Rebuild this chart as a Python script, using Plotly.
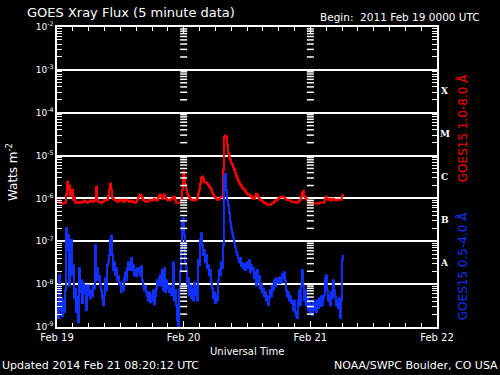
import pandas as pd
import plotly.graph_objects as go

# ---------------- data ----------------
data_start = "2011-02-19 00:00"
data_end = "2011-02-21 06:10"

# GOES15 1.0-8.0 A (long channel), log10 of W m^-2
long_log10 = [
    -6.08, -6.05, -6.05, -6.10, -6.10, -6.12, -6.12, -6.10, -6.10, -5.91,
    -5.61, -5.80, -5.70, -5.94, -5.84, -5.80, -6.03, -5.98, -6.10, -6.08,
    -6.10, -6.08, -6.08, -6.10, -6.10, -6.08, -6.08, -6.05, -6.08, -6.08,
    -6.10, -6.08, -6.08, -6.05, -6.05, -6.08, -6.08, -6.05, -6.03, -5.73,
    -6.03, -6.08, -6.08, -6.10, -6.10, -6.08, -6.08, -6.05, -6.05, -6.03,
    -6.03, -5.94, -5.80, -5.66, -5.80, -5.98, -6.01, -6.03, -6.05, -6.05,
    -6.08, -6.08, -6.05, -6.03, -6.03, -6.05, -6.08, -6.08, -6.05, -6.03,
    -6.05, -6.05, -6.08, -6.08, -6.05, -6.05, -6.08, -6.10, -6.10, -6.08,
    -6.03, -5.98, -5.94, -5.91, -5.94, -5.98, -6.03, -6.05, -6.08, -6.08,
    -6.08, -6.05, -6.03, -6.03, -6.05, -6.05, -6.03, -6.01, -6.03, -6.05,
    -6.03, -5.98, -5.94, -5.91, -5.96, -6.01, -5.98, -5.91, -5.98, -6.01,
    -6.03, -6.05, -6.03, -6.03, -6.01, -6.01, -5.96, -5.96, -6.03, -6.10,
    -6.10, -6.10, -6.10, -6.10, -6.03, -5.80, -5.38, -5.47, -5.68, -5.80,
    -5.89, -5.94, -5.98, -6.01, -6.03, -6.03, -6.05, -6.05, -6.03, -6.03,
    -5.98, -5.89, -5.80, -5.66, -5.52, -5.49, -5.54, -5.61, -5.63, -5.63,
    -5.66, -5.68, -5.73, -5.75, -5.80, -5.87, -5.91, -5.96, -5.98, -6.01,
    -6.03, -6.03, -6.01, -5.98, -5.96, -5.96, -5.33, -4.56, -4.54, -4.56,
    -4.75, -4.94, -5.03, -5.10, -5.17, -5.21, -5.28, -5.33, -5.40, -5.47,
    -5.52, -5.59, -5.63, -5.68, -5.70, -5.75, -5.77, -5.80, -5.82, -5.87,
    -5.89, -5.91, -5.91, -5.94, -5.96, -5.98, -6.01, -6.01, -5.94, -5.89,
    -5.91, -5.96, -6.01, -6.03, -6.05, -6.05, -6.08, -6.10, -6.12, -6.12,
    -6.15, -6.15, -6.15, -6.15, -6.12, -6.12, -6.10, -6.08, -6.05, -6.05,
    -6.03, -6.01, -5.98, -5.98, -5.96, -5.96, -5.96, -5.98, -6.01, -6.03,
    -6.03, -6.03, -6.05, -6.05, -6.08, -6.08, -6.08, -6.08, -6.10, -6.10,
    -6.10, -6.08, -6.05, -6.03, -5.96, -5.87, -5.82, -5.94, -5.98, -6.01,
    -6.03, -6.05, -6.08, -6.10, -6.10, -6.10, -6.12, -6.12, -6.12, -6.12,
    -6.12, -6.12, -6.10, -6.10, -6.10, -6.10, -6.10, -6.08, -6.01, -5.96,
    -6.01, -6.03, -6.03, -6.01, -6.05, -6.03, -6.01, -6.03, -6.03, -6.05,
    -6.03, -6.03, -6.03, -6.03, -6.03, -5.94, -5.89,
]

# GOES15 0.5-4.0 A (short channel), log10 of W m^-2
short_log10 = [
    -8.38, -8.79, -7.79, -8.61, -8.33, -8.75, -8.38, -8.65, -8.14, -6.69,
    -7.21, -6.85, -8.03, -7.21, -6.97, -7.79, -7.56, -8.33, -8.10, -8.65,
    -8.28, -8.89, -7.63, -8.19, -7.91, -8.44, -7.96, -8.21, -8.03, -8.61,
    -8.26, -8.03, -8.19, -8.33, -8.14, -8.28, -8.03, -8.10, -7.09, -7.91,
    -7.63, -7.91, -7.81, -8.00, -8.14, -8.33, -8.49, -8.26, -7.86, -8.14,
    -7.56, -7.49, -7.32, -6.97, -6.87, -7.32, -7.67, -7.49, -7.79, -7.63,
    -7.91, -7.81, -8.00, -7.96, -8.19, -8.03, -8.14, -7.86, -7.72, -7.91,
    -7.63, -7.49, -7.67, -7.49, -7.39, -7.67, -7.56, -7.79, -7.67, -7.81,
    -7.63, -7.72, -7.63, -7.79, -7.58, -7.91, -8.03, -8.14, -8.05, -8.19,
    -8.28, -8.38, -8.19, -8.42, -8.26, -8.38, -8.14, -8.47, -8.28, -8.10,
    -7.91, -8.03, -7.86, -7.79, -8.03, -7.67, -8.14, -7.63, -8.19, -7.91,
    -8.10, -8.03, -8.19, -8.10, -8.26, -8.03, -7.49, -8.38, -8.14, -8.49,
    -8.84, -8.98, -8.14, -7.67, -7.21, -6.50, -6.46, -6.85, -7.49, -7.63,
    -8.03, -7.86, -8.26, -8.03, -8.33, -8.10, -8.38, -7.96, -8.26, -8.03,
    -8.38, -7.44, -7.56, -6.97, -6.81, -7.09, -7.32, -7.21, -7.49, -7.32,
    -7.63, -7.56, -7.79, -7.67, -7.96, -8.10, -8.33, -8.19, -8.44, -8.26,
    -8.38, -7.91, -7.67, -7.79, -7.49, -7.63, -7.09, -5.48, -5.43, -5.81,
    -6.04, -6.16, -6.34, -6.55, -6.69, -6.81, -6.92, -7.02, -7.14, -7.25,
    -7.32, -7.39, -7.49, -7.39, -7.58, -7.51, -7.63, -7.53, -7.67, -7.56,
    -7.49, -7.63, -7.44, -7.72, -7.56, -7.67, -7.63, -7.86, -7.72, -8.03,
    -7.67, -7.96, -7.81, -8.10, -8.00, -8.19, -8.10, -8.28, -8.19, -8.38,
    -8.28, -8.49, -8.33, -8.14, -8.28, -8.03, -8.14, -7.91, -8.05, -7.86,
    -7.96, -7.86, -7.98, -7.84, -7.96, -7.77, -7.86, -7.72, -7.91, -8.14,
    -8.28, -8.19, -8.38, -8.28, -8.44, -8.38, -8.61, -8.38, -8.65, -8.75,
    -8.79, -8.38, -8.14, -8.49, -8.03, -7.67, -8.03, -8.38, -8.14, -8.49,
    -8.33, -8.61, -8.38, -8.65, -8.49, -8.72, -8.38, -8.61, -8.42, -8.65,
    -8.38, -8.56, -8.33, -8.51, -8.28, -8.49, -8.33, -8.26, -7.86, -7.79,
    -8.14, -8.38, -8.26, -8.49, -8.19, -8.33, -7.91, -8.14, -8.28, -8.49,
    -8.38, -8.56, -8.33, -8.79, -8.38, -7.44, -7.32,
]

day_ticks = ["2011-02-19", "2011-02-20", "2011-02-21", "2011-02-22"]
day_labels = ["Feb 19", "Feb 20", "Feb 21", "Feb 22"]
day_boundaries = ["2011-02-20", "2011-02-21"]
decades = [-9, -8, -7, -6, -5, -4, -3, -2]
minor_multipliers = [2, 3, 4, 5, 6, 7, 8, 9]
flare_classes = ["A", "B", "C", "M", "X"]
class_centers = [-7.5, -6.5, -5.5, -4.5, -3.5]

# ---------------- derived ----------------
times = pd.date_range(data_start, data_end, periods=len(long_log10))
long_flux = [10.0 ** v for v in long_log10]
short_flux = [10.0 ** v for v in short_log10]
decade_vals = [10.0 ** d for d in decades]
decade_text = ["10<sup>%d</sup>" % d for d in decades]
minor_vals = [m * 10.0 ** d for d in decades[:-1] for m in minor_multipliers]

FONT = "DejaVu Sans"
fig = go.Figure()

fig.add_trace(go.Scatter(x=times, y=long_flux, mode="lines", line=dict(color="#ff0000", width=2, shape="hv"),
                         hoverinfo="skip", showlegend=False))
fig.add_trace(go.Scatter(x=times, y=short_flux, mode="lines", line=dict(color="#1030ff", width=2, shape="hv"),
                         hoverinfo="skip", showlegend=False))

# dashed day-boundary markers (axis ticks repeated at each day boundary)
bx, by = [], []
for d in day_boundaries:
    for v in minor_vals:
        bx.append(d)
        by.append(v)
fig.add_trace(go.Scatter(x=bx, y=by, mode="markers",
                         marker=dict(symbol="line-ew", size=5, line=dict(color="white", width=1.5)),
                         hoverinfo="skip", showlegend=False))

fig.update_layout(
    width=500, height=375,
    margin=dict(l=57, r=63, t=27, b=48),
    paper_bgcolor="black", plot_bgcolor="black",
    font=dict(family=FONT, color="white", size=10),
    showlegend=False,
    hovermode=False,
)

fig.update_xaxes(
    type="date", range=[day_ticks[0], day_ticks[-1]],
    tickmode="array", tickvals=day_ticks, ticktext=day_labels,
    ticks="inside", ticklen=6, tickwidth=1, tickcolor="white",
    showline=True, linecolor="white", linewidth=1.5, mirror="ticks",
    showgrid=False, zeroline=False,
    tickfont=dict(family=FONT, size=10, color="white"),
    minor=dict(dtick=3 * 3600 * 1000, tick0=day_ticks[0], ticks="inside", ticklen=4,
               tickcolor="white", tickwidth=1, showgrid=False),
)

fig.update_yaxes(
    type="log", range=[decades[0], decades[-1]],
    tickmode="array", tickvals=decade_vals, ticktext=decade_text,
    ticks="inside", ticklen=5, tickwidth=1, tickcolor="white",
    showline=True, linecolor="white", linewidth=1.5, mirror="ticks",
    showgrid=True, gridcolor="white", gridwidth=1.5, zeroline=False,
    tickfont=dict(family=FONT, size=9, color="white"),
    minor=dict(tickmode="array", tickvals=minor_vals, ticks="inside", ticklen=5,
               tickcolor="white", tickwidth=1, showgrid=False),
)

ann = []
ann.append(dict(text="GOES Xray Flux (5 minute data)", xref="paper", yref="paper", x=-0.084, y=1.047,
                xanchor="left", yanchor="middle", showarrow=False, font=dict(size=13)))
ann.append(dict(text="Begin:  2011 Feb 19 0000 UTC", xref="paper", yref="paper", x=0.687, y=1.033,
                xanchor="left", yanchor="middle", showarrow=False, font=dict(size=10.5)))
ann.append(dict(text="Watts m<sup>-2</sup>", xref="paper", yref="paper", x=-0.118, y=0.517,
                xanchor="center", yanchor="middle", textangle=-90, showarrow=False, font=dict(size=12)))
ann.append(dict(text="Universal Time", xref="paper", yref="paper", x=0.5, y=-0.08,
                xanchor="center", yanchor="middle", showarrow=False, font=dict(size=10)))
ann.append(dict(text="Updated 2014 Feb 21 08:20:12 UTC", xref="paper", yref="paper", x=-0.15, y=-0.13,
                xanchor="left", yanchor="middle", showarrow=False, font=dict(size=11)))
ann.append(dict(text="NOAA/SWPC Boulder, CO USA", xref="paper", yref="paper", x=1.166, y=-0.13,
                xanchor="right", yanchor="middle", showarrow=False, font=dict(size=11)))
for c, yc in zip(flare_classes, class_centers):
    ann.append(dict(text="<b>%s</b>" % c, xref="paper", yref="y", x=1.021, y=yc,
                    xanchor="center", yanchor="middle", showarrow=False,
                    font=dict(family="DejaVu Serif", size=9)))
ann.append(dict(text="GOES15 1.0-8.0 Å", xref="paper", yref="paper", x=1.066, y=0.663,
                xanchor="center", yanchor="middle", textangle=-90, showarrow=False,
                font=dict(size=12, color="#ff0000")))
ann.append(dict(text="GOES15 0.5-4.0 Å", xref="paper", yref="paper", x=1.066, y=0.203,
                xanchor="center", yanchor="middle", textangle=-90, showarrow=False,
                font=dict(size=12, color="#1030ff")))
fig.update_layout(annotations=ann)

fig.write_html("out.html", config={"displayModeBar": False},
               post_script="document.body.style.margin='0';document.body.style.background='black';")
